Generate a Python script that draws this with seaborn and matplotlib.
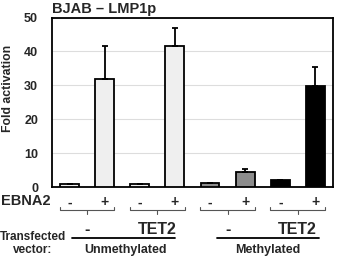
import matplotlib
matplotlib.use("Agg")
import matplotlib.pyplot as plt
import matplotlib.transforms as mtransforms
import seaborn as sns
import pandas as pd
import numpy as np

# ---- data ----
bar_ids = ["U_ctrl_-", "U_ctrl_+", "U_TET2_-", "U_TET2_+",
           "M_ctrl_-", "M_ctrl_+", "M_TET2_-", "M_TET2_+"]
fold_activation = [1.0, 32.0, 1.0, 41.5, 1.1, 4.3, 2.0, 29.9]
error_upper = [0.0, 9.5, 0.0, 5.3, 0.0, 0.9, 0.2, 5.6]
bar_colors = ["#efefef", "#efefef", "#efefef", "#efefef",
              "#8c8c8c", "#8c8c8c", "#000000", "#000000"]
ebna2_labels = ["-", "+", "-", "+", "-", "+", "-", "+"]
vector_labels = ["-", "TET2", "-", "TET2"]
methylation_labels = ["Unmethylated", "Methylated"]
yticks = [0, 10, 20, 30, 40, 50]

df = pd.DataFrame({"bar": bar_ids, "value": fold_activation})

sns.set_theme(style="white")
plt.rcParams["font.family"] = ["Liberation Sans", "DejaVu Sans"]
plt.rcParams["font.weight"] = "bold"

fig = plt.figure(figsize=(3.38, 2.56), dpi=100)
ax = fig.add_axes([0.1538, 0.2695, 0.985 - 0.1538, 0.9316 - 0.2695])

sns.barplot(data=df, x="bar", y="value", hue="bar",
            palette=dict(zip(bar_ids, bar_colors)), legend=False,
            width=0.54, edgecolor="black", linewidth=1.3, ax=ax, zorder=3)

x = np.arange(len(bar_ids))
ax.errorbar(x, fold_activation, yerr=[np.zeros(len(x)), error_upper],
            fmt="none", ecolor="black", elinewidth=1.3, capsize=2.5,
            capthick=1.3, zorder=4)

B = dict(fontweight="heavy")
ax.set_xlim(-0.5, 7.5)
ax.set_ylim(0, 50)
ax.set_yticks(yticks)
ax.set_yticklabels([str(t) for t in yticks], fontsize=9, **B)
ax.yaxis.grid(True, color="#dddddd", linewidth=0.8, zorder=0)
ax.set_axisbelow(True)
for s in ax.spines.values():
    s.set_color("black")
    s.set_linewidth(1.3)
ax.tick_params(axis="y", length=0, pad=10)
ax.tick_params(axis="x", length=0, pad=6)
ax.set_xticks(x)
ax.set_xticklabels(ebna2_labels, fontsize=10, **B)
ax.set_xlabel("")
ax.set_ylabel("Fold activation", fontsize=8.8, labelpad=6, **B)
ax.yaxis.set_label_coords(-0.135, 0.58)

ax.text(0, 1.008, "BJAB \u2013 LMP1p", transform=ax.transAxes,
        fontsize=10.5, ha="left", va="bottom", **B)

trans = mtransforms.blended_transform_factory(ax.transData, ax.transAxes)
ax.text(-0.55, -0.082, "EBNA2", transform=trans, ha="right", va="center",
        fontsize=10.5, **B)

# brackets under pairs
yb = -0.136
for k in range(4):
    a, b = 2 * k - 0.28, 2 * k + 1 + 0.28
    c = 2 * k + 0.5
    ax.plot([a, a, b, b], [yb + 0.018, yb, yb, yb + 0.018], color="#555555",
            lw=0.8, transform=trans, clip_on=False)
    ax.plot([c, c], [yb, yb - 0.025], color="#555555", lw=0.8,
            transform=trans, clip_on=False)
    lab = vector_labels[k]
    ax.text(c, -0.25, lab, transform=trans, ha="center", va="center",
            fontsize=11.5, **B)

# underlines and methylation labels
yl = -0.30
for (a, b), lab, cx in zip([(0.07, 3.0), (4.2, 7.1)], methylation_labels,
                           [1.6, 5.65]):
    ax.plot([a, b], [yl, yl], color="black", lw=1.3, transform=trans,
            clip_on=False)
    ax.text(cx, -0.372, lab, transform=trans, ha="center", va="center",
            fontsize=9, **B)

fig.text(33 / 338, 1 - 237 / 256, "Transfected", ha="center", va="center",
         fontsize=8.5, **B)
fig.text(33 / 338, 1 - 250 / 256, "vector:", ha="center", va="center",
         fontsize=8.5, **B)

fig.savefig("out.png", dpi=100)
